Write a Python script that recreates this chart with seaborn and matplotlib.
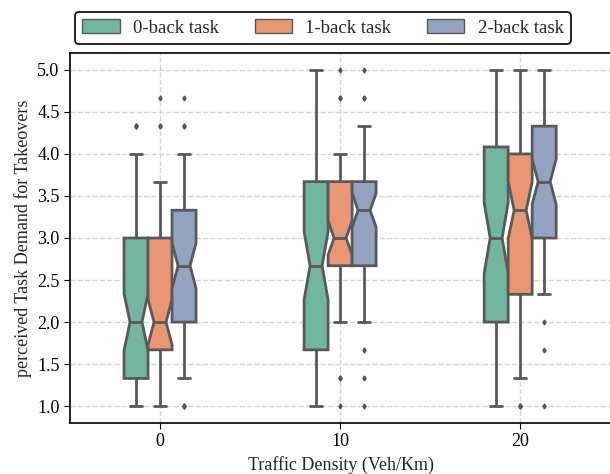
""" Notched boxplots of perceived task demand per traffic density. """
import numpy as np
import pandas as pd
import seaborn as sns
import matplotlib
matplotlib.use("Agg")
import matplotlib.pyplot as plt

# rating levels (1-5 scale, averaged over three items)
levels = [1.0, 1.33, 1.67, 2.0, 2.33, 2.67, 3.0, 3.33, 3.67, 4.0, 4.33, 4.67, 5.0]
densities = ["0", "10", "20"]
tasks = ["0-back task", "1-back task", "2-back task"]

# number of participants per rating level, one row per traffic density
counts_0back = [
    [5, 12, 8, 8, 4, 4, 8, 2, 3, 3, 3, 0, 0],
    [5, 5, 8, 4, 4, 7, 5, 4, 7, 3, 2, 2, 4],
    [5, 3, 4, 7, 4, 5, 6, 4, 3, 4, 5, 4, 6],
]
counts_1back = [
    [4, 5, 11, 14, 4, 4, 9, 3, 3, 0, 2, 1, 0],
    [1, 2, 0, 4, 4, 12, 12, 6, 10, 6, 0, 2, 1],
    [3, 3, 3, 4, 6, 4, 5, 7, 6, 9, 3, 3, 4],
]
counts_2back = [
    [3, 3, 4, 11, 5, 9, 7, 8, 4, 3, 2, 1, 0],
    [1, 1, 1, 4, 4, 9, 8, 11, 12, 4, 2, 2, 1],
    [1, 0, 1, 1, 4, 5, 8, 7, 10, 6, 8, 4, 5],
]

rows = []
for task, counts in zip(tasks, [counts_0back, counts_1back, counts_2back]):
    for density, c in zip(densities, counts):
        for v in np.repeat(levels, c):
            rows.append((density, task, v))
df = pd.DataFrame(rows, columns=["density", "task", "demand"])

sns.set_style("whitegrid", {"grid.linestyle": "--", "axes.edgecolor": "black",
                            "xtick.bottom": True, "ytick.left": True})
plt.rcParams["font.family"] = ["Liberation Serif", "DejaVu Serif"]
plt.rcParams["xtick.major.size"] = 4
plt.rcParams["ytick.major.size"] = 4
plt.rcParams["xtick.color"] = "black"
plt.rcParams["ytick.color"] = "black"

fig = plt.figure(figsize=(6.1, 4.74), dpi=100)
ax = fig.add_axes([70 / 610, 1 - 423 / 474, 542 / 610, (423 - 53) / 474])

sns.boxplot(data=df, x="density", y="demand", hue="task", order=densities,
            hue_order=tasks, palette="Set2", notch=True, whis=[5, 95],
            width=0.4, linewidth=2, fliersize=2.5,
            flierprops={"marker": "d", "markerfacecolor": "#555555",
                        "markeredgecolor": "#555555"},
            ax=ax)

ax.set_xlim(-0.5, 2.51)
ax.set_ylim(0.8, 5.2)
ax.set_yticks(np.arange(1.0, 5.01, 0.5))
ax.set_yticklabels([f"{t:.1f}" for t in np.arange(1.0, 5.01, 0.5)], fontsize=13)
ax.set_xticklabels(densities, fontsize=13)
ax.grid(True, axis="both", color="#d5d5d5", linestyle="--", linewidth=1)
ax.set_xlabel("Traffic Density (Veh/Km)", fontsize=13)
ax.set_ylabel("perceived Task Demand for Takeovers", fontsize=13)
for s in ax.spines.values():
    s.set_linewidth(1.2)

handles, labels = ax.get_legend_handles_labels()
ax.get_legend().remove()
leg = fig.legend(handles, labels, loc="center", ncol=3,
                 bbox_to_anchor=(323 / 610, 1 - 28 / 474), fontsize=13.5,
                 frameon=True, fancybox=True, edgecolor="black",
                 handlelength=2.0, handleheight=0.7, handletextpad=0.7,
                 columnspacing=1.9, borderpad=0.4)
leg.get_frame().set_linewidth(1.2)
leg.get_frame().set_alpha(1)
for h in leg.legend_handles:
    h.set_linewidth(1)

fig.savefig("out.png", dpi=100)
